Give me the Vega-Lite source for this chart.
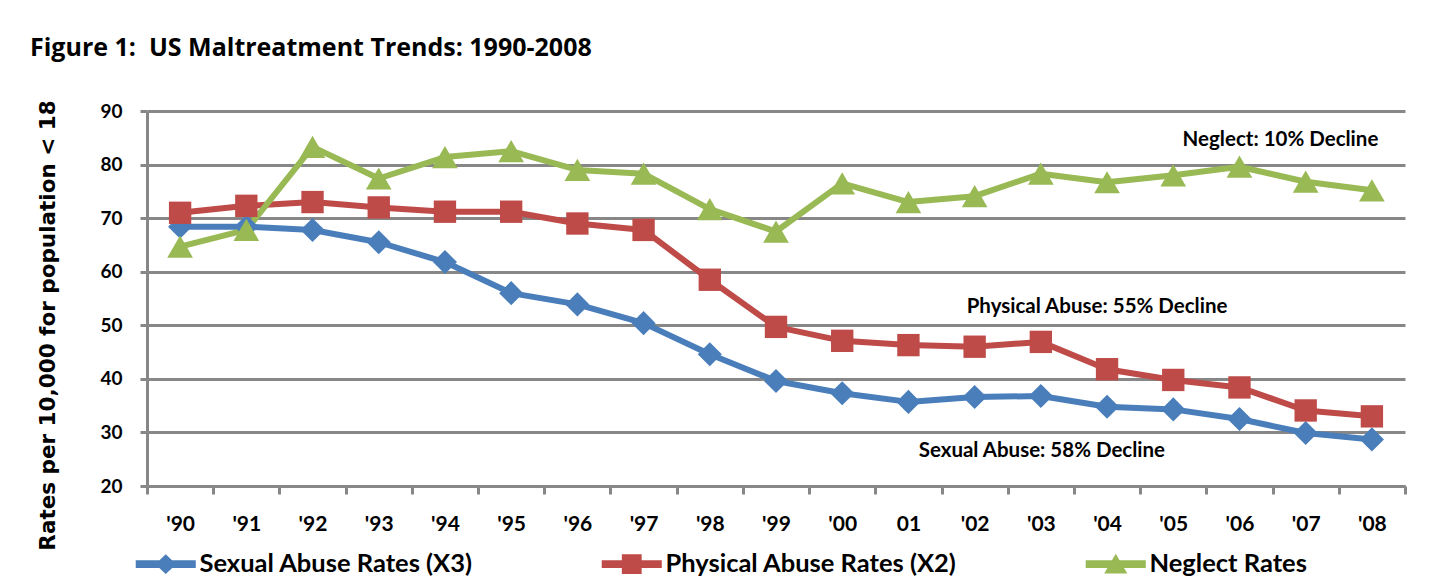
{
  "$schema": "https://vega.github.io/schema/vega-lite/v6.json",
  "autosize": "none",
  "width": 1258,
  "height": 375,
  "padding": {"left": 147, "top": 111, "right": 25, "bottom": 97},
  "background": "white",
  "title": {
    "text": "Figure 1:\u00a0 US Maltreatment Trends: 1990-2008",
    "anchor": "start",
    "frame": "group",
    "dx": -117,
    "offset": 19,
    "baseline": "alphabetic",
    "font": "Open Sans",
    "fontSize": 25,
    "fontWeight": "bold",
    "color": "black"
  },
  "config": {
    "view": {"stroke": null},
    "axis": {
      "domainColor": "#878787",
      "domainWidth": 3,
      "tickColor": "#878787",
      "tickWidth": 3,
      "gridColor": "#878787",
      "gridWidth": 3,
      "labelFont": "Lato",
      "labelFontWeight": "bold",
      "labelColor": "black"
    }
  },
  "datasets": {
    "rates": [
      {"year": "'90", "series": "Sexual Abuse Rates (X3)", "rate": 68.4},
      {"year": "'91", "series": "Sexual Abuse Rates (X3)", "rate": 68.4},
      {"year": "'92", "series": "Sexual Abuse Rates (X3)", "rate": 67.8},
      {"year": "'93", "series": "Sexual Abuse Rates (X3)", "rate": 65.5},
      {"year": "'94", "series": "Sexual Abuse Rates (X3)", "rate": 61.8},
      {"year": "'95", "series": "Sexual Abuse Rates (X3)", "rate": 56.0},
      {"year": "'96", "series": "Sexual Abuse Rates (X3)", "rate": 53.9},
      {"year": "'97", "series": "Sexual Abuse Rates (X3)", "rate": 50.4},
      {"year": "'98", "series": "Sexual Abuse Rates (X3)", "rate": 44.6},
      {"year": "'99", "series": "Sexual Abuse Rates (X3)", "rate": 39.6},
      {"year": "'00", "series": "Sexual Abuse Rates (X3)", "rate": 37.3},
      {"year": "01", "series": "Sexual Abuse Rates (X3)", "rate": 35.7},
      {"year": "'02", "series": "Sexual Abuse Rates (X3)", "rate": 36.6},
      {"year": "'03", "series": "Sexual Abuse Rates (X3)", "rate": 36.8},
      {"year": "'04", "series": "Sexual Abuse Rates (X3)", "rate": 34.8},
      {"year": "'05", "series": "Sexual Abuse Rates (X3)", "rate": 34.3},
      {"year": "'06", "series": "Sexual Abuse Rates (X3)", "rate": 32.5},
      {"year": "'07", "series": "Sexual Abuse Rates (X3)", "rate": 29.9},
      {"year": "'08", "series": "Sexual Abuse Rates (X3)", "rate": 28.7},
      {"year": "'90", "series": "Physical Abuse Rates (X2)", "rate": 71.0},
      {"year": "'91", "series": "Physical Abuse Rates (X2)", "rate": 72.3},
      {"year": "'92", "series": "Physical Abuse Rates (X2)", "rate": 73.0},
      {"year": "'93", "series": "Physical Abuse Rates (X2)", "rate": 72.0},
      {"year": "'94", "series": "Physical Abuse Rates (X2)", "rate": 71.2},
      {"year": "'95", "series": "Physical Abuse Rates (X2)", "rate": 71.2},
      {"year": "'96", "series": "Physical Abuse Rates (X2)", "rate": 69.0},
      {"year": "'97", "series": "Physical Abuse Rates (X2)", "rate": 67.8},
      {"year": "'98", "series": "Physical Abuse Rates (X2)", "rate": 58.5},
      {"year": "'99", "series": "Physical Abuse Rates (X2)", "rate": 49.7},
      {"year": "'00", "series": "Physical Abuse Rates (X2)", "rate": 47.1},
      {"year": "01", "series": "Physical Abuse Rates (X2)", "rate": 46.3},
      {"year": "'02", "series": "Physical Abuse Rates (X2)", "rate": 46.0},
      {"year": "'03", "series": "Physical Abuse Rates (X2)", "rate": 46.9},
      {"year": "'04", "series": "Physical Abuse Rates (X2)", "rate": 41.8},
      {"year": "'05", "series": "Physical Abuse Rates (X2)", "rate": 39.8},
      {"year": "'06", "series": "Physical Abuse Rates (X2)", "rate": 38.4},
      {"year": "'07", "series": "Physical Abuse Rates (X2)", "rate": 34.1},
      {"year": "'08", "series": "Physical Abuse Rates (X2)", "rate": 33.0},
      {"year": "'90", "series": "Neglect Rates", "rate": 64.7},
      {"year": "'91", "series": "Neglect Rates", "rate": 67.8},
      {"year": "'92", "series": "Neglect Rates", "rate": 83.3},
      {"year": "'93", "series": "Neglect Rates", "rate": 77.4},
      {"year": "'94", "series": "Neglect Rates", "rate": 81.4},
      {"year": "'95", "series": "Neglect Rates", "rate": 82.5},
      {"year": "'96", "series": "Neglect Rates", "rate": 79.0},
      {"year": "'97", "series": "Neglect Rates", "rate": 78.3},
      {"year": "'98", "series": "Neglect Rates", "rate": 71.7},
      {"year": "'99", "series": "Neglect Rates", "rate": 67.5},
      {"year": "'00", "series": "Neglect Rates", "rate": 76.5},
      {"year": "01", "series": "Neglect Rates", "rate": 73.0},
      {"year": "'02", "series": "Neglect Rates", "rate": 74.1},
      {"year": "'03", "series": "Neglect Rates", "rate": 78.3},
      {"year": "'04", "series": "Neglect Rates", "rate": 76.7},
      {"year": "'05", "series": "Neglect Rates", "rate": 78.0},
      {"year": "'06", "series": "Neglect Rates", "rate": 79.6},
      {"year": "'07", "series": "Neglect Rates", "rate": 76.8},
      {"year": "'08", "series": "Neglect Rates", "rate": 75.2}
    ]
  },
  "encoding": {
    "x": {
      "field": "year",
      "type": "nominal",
      "bandPosition": 0.5,
      "scale": {
        "type": "band",
        "paddingInner": 0,
        "paddingOuter": 0,
        "domain": ["'90", "'91", "'92", "'93", "'94", "'95", "'96", "'97", "'98", "'99", "'00", "01", "'02", "'03", "'04", "'05", "'06", "'07", "'08"]
      },
      "axis": {
        "title": null,
        "labelAngle": 0,
        "labelFontSize": 21,
        "labelPadding": 19,
        "tickBand": "extent",
        "tickSize": 8,
        "grid": false
      }
    },
    "y": {
      "field": "rate",
      "type": "quantitative",
      "scale": {"domain": [20, 90], "nice": false, "zero": false},
      "axis": {
        "title": "Rates per 10,000 for population < 18",
        "titleFont": "DejaVu Sans",
        "titleFontSize": 21.5,
        "titleFontWeight": "bold",
        "titleColor": "black",
        "titleX": -99,
        "titleY": 214,
        "titleBaseline": "middle",
        "values": [20, 30, 40, 50, 60, 70, 80, 90],
        "labelFontSize": 19,
        "labelPadding": 18,
        "tickSize": 7,
        "grid": true
      }
    },
    "color": {
      "field": "series",
      "type": "nominal",
      "scale": {
        "domain": ["Sexual Abuse Rates (X3)", "Physical Abuse Rates (X2)", "Neglect Rates"],
        "range": ["#4A7EBB", "#BE4B48", "#98B954"]
      },
      "legend": {
        "title": null,
        "orient": "none",
        "legendX": 6,
        "legendY": 440,
        "direction": "horizontal",
        "columns": 3,
        "columnPadding": 128,
        "padding": 0,
        "symbolSize": 484,
        "labelOffset": 21,
        "labelFont": "Lato",
        "labelFontSize": 25.5,
        "labelFontWeight": "bold",
        "labelColor": "black",
        "labelLimit": 500,
        "encode": {
          "symbols": {
            "update": {
              "shape": {"signal": "datum.value === 'Sexual Abuse Rates (X3)' ? 'M-2.73,-0.36H2.73V0.36H-2.73Z M0,-0.9L0.95,0L0,0.9L-0.95,0Z' : datum.value === 'Physical Abuse Rates (X2)' ? 'M-2.73,-0.36H2.73V0.36H-2.73Z M-0.9,-0.9H0.9V0.9H-0.9Z' : 'M-2.73,-0.36H2.73V0.36H-2.73Z M0,-0.95L1.05,0.85H-1.05Z'"},
              "fill": {"signal": "scale('color', datum.value)"},
              "stroke": {"value": "transparent"},
              "strokeWidth": {"value": 0},
              "opacity": {"value": 1},
              "size": {"value": 484}
            }
          }
        }
      }
    }
  },
  "layer": [
    {
      "data": {"name": "rates"},
      "mark": {"type": "line", "strokeWidth": 6, "strokeJoin": "round"}
    },
    {
      "data": {"name": "rates"},
      "transform": [{"filter": "datum.series === 'Sexual Abuse Rates (X3)'"}],
      "mark": {"type": "point", "filled": true, "opacity": 1, "strokeWidth": 0, "shape": "diamond", "size": 580}
    },
    {
      "data": {"name": "rates"},
      "transform": [{"filter": "datum.series === 'Physical Abuse Rates (X2)'"}],
      "mark": {"type": "point", "filled": true, "opacity": 1, "strokeWidth": 0, "shape": "square", "size": 500}
    },
    {
      "data": {"name": "rates"},
      "transform": [{"filter": "datum.series === 'Neglect Rates'"}],
      "mark": {"type": "point", "filled": true, "opacity": 1, "strokeWidth": 0, "shape": "triangle-up", "size": 660}
    },
    {
      "data": {"values": [{"year": "'06", "rate": 84.5, "note": "Neglect: 10% Decline"}]},
      "mark": {"type": "text", "dx": 41, "font": "Lato", "fontSize": 20.5, "fontWeight": "bold", "color": "black"},
      "encoding": {"text": {"field": "note"}, "color": {"value": "black"}}
    },
    {
      "data": {"values": [{"year": "'04", "rate": 53.4, "note": "Physical Abuse: 55% Decline"}]},
      "mark": {"type": "text", "dx": -10, "font": "Lato", "fontSize": 20.5, "fontWeight": "bold", "color": "black"},
      "encoding": {"text": {"field": "note"}, "color": {"value": "black"}}
    },
    {
      "data": {"values": [{"year": "'03", "rate": 26.5, "note": "Sexual Abuse: 58% Decline"}]},
      "mark": {"type": "text", "dx": 1, "font": "Lato", "fontSize": 20.5, "fontWeight": "bold", "color": "black"},
      "encoding": {"text": {"field": "note"}, "color": {"value": "black"}}
    }
  ]
}
